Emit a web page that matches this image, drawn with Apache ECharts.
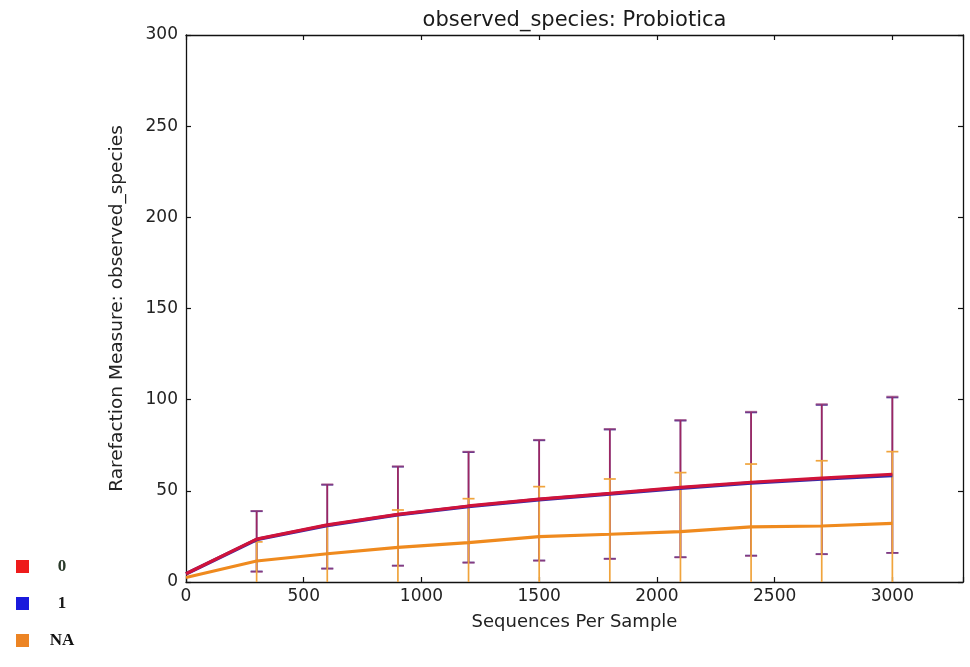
<!DOCTYPE html>
<html>
<head>
<meta charset="utf-8">
<script src="https://cdn.jsdelivr.net/npm/echarts@6/dist/echarts.min.js"></script>
<style>html,body{margin:0;padding:0;background:#fff}#c{width:970px;height:667px}</style>
</head>
<body>
<div id="c"></div>
<script>
// Sequences per sample (rarefaction depths)
const depths = [0, 300, 600, 900, 1200, 1500, 1800, 2100, 2400, 2700, 3000];
// Group "0"
const mean0 = [4.5, 23.5, 31.3, 37.1, 41.7, 45.5, 48.6, 51.9, 54.7, 57.0, 59.1];
const high0 = [4.5, 39.0, 53.6, 63.5, 71.5, 78.0, 84.0, 88.9, 93.4, 97.6, 101.7];
const low0  = [4.5, 5.6, 7.3, 8.9, 10.6, 11.7, 12.6, 13.5, 14.3, 15.2, 15.9];
// Group "1"
const mean1 = [4.5, 23.3, 31.0, 36.9, 41.4, 45.2, 48.3, 51.5, 54.3, 56.5, 58.4];
const high1 = [4.5, 38.8, 53.3, 63.2, 71.2, 77.7, 83.6, 88.5, 93.0, 97.1, 101.2];
const low1  = [4.5, 5.8, 7.4, 9.0, 10.7, 11.8, 12.8, 13.6, 14.5, 15.3, 16.0];
// Group "NA"
const meanNA = [2.5, 11.5, 15.5, 19.0, 21.6, 24.9, 26.2, 27.6, 30.2, 30.7, 32.2];
const highNA = [2.5, 22.0, 31.0, 39.5, 45.7, 52.3, 56.5, 60.0, 64.7, 66.5, 71.5];
const lowNA  = [2.5, -0.5, -1.0, -1.5, -2.5, -2.5, -4.1, -4.8, -4.3, -5.1, -7.1];

const groupNames = ['0', '1', 'NA'];
const yTicks = [0, 50, 100, 150, 200, 250, 300];
const xTicks = [0, 500, 1000, 1500, 2000, 2500, 3000];

const FONT = 'DejaVu Sans';

function zip2(xs, ys) { return xs.map((x, i) => [x, ys[i]]); }
function zip3(xs, lo, hi) { return xs.map((x, i) => [x, lo[i], hi[i]]); }

function errRender(color, capColor, lw) {
  return function (params, api) {
    const x = api.value(0), lo = api.value(1), hi = api.value(2);
    if (hi === lo) return null;
    const p1 = api.coord([x, lo]), p2 = api.coord([x, hi]);
    const hw = 6;
    return {
      type: 'group',
      children: [
        { type: 'line', shape: { x1: p1[0], y1: p1[1], x2: p2[0], y2: p2[1] }, style: { stroke: color, lineWidth: lw } },
        { type: 'line', shape: { x1: p1[0] - hw, y1: p1[1], x2: p1[0] + hw, y2: p1[1] }, style: { stroke: capColor, lineWidth: lw } },
        { type: 'line', shape: { x1: p2[0] - hw, y1: p2[1], x2: p2[0] + hw, y2: p2[1] }, style: { stroke: capColor, lineWidth: lw } }
      ]
    };
  };
}

const axisLineStyle = { color: '#111', width: 1.3 };
const tickStyle = { show: true, inside: true, length: 5, lineStyle: { color: '#111', width: 1.2 } };

const chart = echarts.init(document.getElementById('c'), null, { renderer: 'canvas' });
chart.setOption({
  animation: false,
  backgroundColor: '#fff',
  title: {
    text: 'observed_species: Probiotica',
    left: 574.5, textAlign: 'center', top: 10, padding: 0,
    textStyle: { fontFamily: FONT, fontSize: 21, fontWeight: 'normal', color: '#1a1a1a' }
  },
  legend: {
    orient: 'vertical', left: 16, top: 558, padding: 0, itemGap: 20,
    itemWidth: 13, itemHeight: 13, icon: 'rect',
    selectedMode: false,
    data: [
      { name: groupNames[0], itemStyle: { color: '#ee1b1b' }, textStyle: { color: '#2a3a2a' } },
      { name: groupNames[1], itemStyle: { color: '#1a1adc' }, textStyle: { color: '#1a1a1a' } },
      { name: groupNames[2], itemStyle: { color: '#ec8424' }, textStyle: { color: '#111' } }
    ],
    formatter: '{c|{name}}',
    textStyle: {
      rich: { c: { width: 56, align: 'center', fontFamily: 'Liberation Serif', fontWeight: 'bold', fontSize: 17, lineHeight: 13 } }
    }
  },
  grid: { left: 186, right: 7, top: 35, bottom: 85, containLabel: false },
  xAxis: [{
    type: 'value', min: 0, max: 3300, interval: 500,
    name: 'Sequences Per Sample', nameLocation: 'middle', nameGap: 31,
    nameTextStyle: { fontFamily: FONT, fontSize: 18, color: '#222' },
    axisLine: { show: true, onZero: false, lineStyle: axisLineStyle },
    axisTick: tickStyle,
    splitLine: { show: false },
    axisLabel: {
      fontFamily: FONT, fontSize: 17, color: '#222', margin: 6,
      formatter: v => (xTicks.indexOf(v) >= 0 ? String(v) : '')
    }
  }, {
    type: 'value', position: 'top', min: 0, max: 3300, interval: 500,
    axisLine: { show: true, onZero: false, lineStyle: axisLineStyle },
    axisTick: tickStyle, axisLabel: { show: false }, splitLine: { show: false }
  }],
  yAxis: [{
    type: 'value', min: 0, max: 300, interval: 50,
    name: 'Rarefaction Measure: observed_species', nameLocation: 'middle', nameGap: 59,
    nameTextStyle: { fontFamily: FONT, fontSize: 18.5, color: '#222' },
    axisLine: { show: true, onZero: false, lineStyle: axisLineStyle },
    axisTick: tickStyle,
    splitLine: { show: false },
    axisLabel: {
      fontFamily: FONT, fontSize: 17, color: '#222', margin: 8,
      formatter: v => (yTicks.indexOf(v) >= 0 ? String(v) : '')
    }
  }, {
    type: 'value', position: 'right', min: 0, max: 300, interval: 50,
    axisLine: { show: true, onZero: false, lineStyle: axisLineStyle },
    axisTick: tickStyle, axisLabel: { show: false }, splitLine: { show: false }
  }],
  series: [
    { name: groupNames[1], type: 'custom', clip: true, z: 2, renderItem: errRender('#5b3a96', '#5b3a96', 1.7), data: zip3(depths, low1, high1), encode: { x: 0, y: [1, 2] } },
    { name: groupNames[0], type: 'custom', clip: true, z: 3, renderItem: errRender('rgba(176,32,80,0.75)', 'rgba(150,60,120,0.7)', 1.7), data: zip3(depths, low0, high0), encode: { x: 0, y: [1, 2] } },
    { name: groupNames[2], type: 'custom', clip: true, z: 4, renderItem: errRender('#f0a43c', '#f0a43c', 1.7), data: zip3(depths, lowNA, highNA), encode: { x: 0, y: [1, 2] } },
    { name: groupNames[2], type: 'line', z: 5, symbol: 'none', clip: true, data: zip2(depths, meanNA), lineStyle: { color: '#ef8a1e', width: 3.2 }, itemStyle: { color: '#ef8a1e' } },
    { name: groupNames[1], type: 'line', z: 6, symbol: 'none', clip: true, data: zip2(depths, mean1), lineStyle: { color: '#3a2aa8', width: 3.6 }, itemStyle: { color: '#3a2aa8' } },
    { name: groupNames[0], type: 'line', z: 7, symbol: 'none', clip: true, data: zip2(depths, mean0), lineStyle: { color: '#d0133a', width: 3.2 }, itemStyle: { color: '#d0133a' } }
  ]
});
</script>
</body>
</html>
